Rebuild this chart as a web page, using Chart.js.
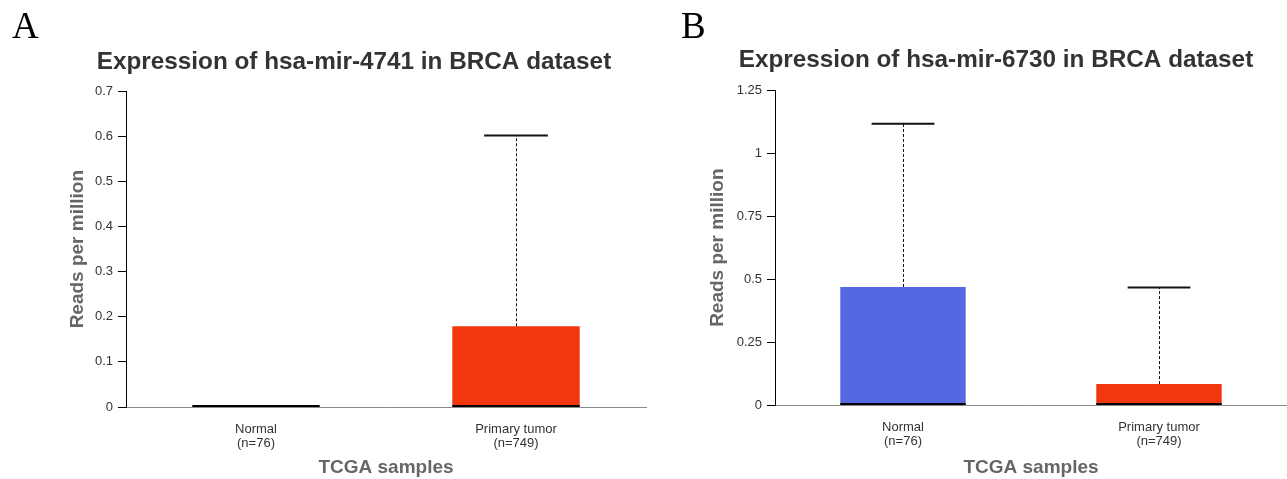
<!DOCTYPE html>
<html>
<head>
<meta charset="utf-8">
<script src="https://cdn.jsdelivr.net/npm/chart.js@4.4.1/dist/chart.umd.min.js"></script>
<style>
  html, body { margin: 0; padding: 0; background: #fff; }
  body { width: 1287px; height: 479px; position: relative; overflow: hidden; }
  .panel { position: absolute; top: 0; }
  .letter { position: absolute; font-family: 'Liberation Serif', 'Times New Roman', serif; font-size: 37px; line-height: 37px; color: #000; z-index: 2; }
</style>
</head>
<body>
<div class="letter" style="left:12px; top:7px;">A</div>
<div class="letter" style="left:681px; top:7px;">B</div>
<canvas id="chartA" class="panel" width="648" height="479" style="left:0px;"></canvas>
<canvas id="chartB" class="panel" width="647" height="479" style="left:640px;"></canvas>
<script>
// ---- Data ----
const categories = [['Normal', '(n=76)'], ['Primary tumor', '(n=749)']];
const boxColors = ['#5469E1', '#F2370F'];

// Panel A: hsa-mir-4741
const titleA = 'Expression of hsa-mir-4741 in BRCA dataset';
const q1A = [0, 0];
const medianA = [0, 0];
const q3A = [0, 0.179];
const maxA = [0, 0.602];
const tickValuesA = [0, 0.1, 0.2, 0.3, 0.4, 0.5, 0.6, 0.7];
const tickLabelsA = ['0', '0.1', '0.2', '0.3', '0.4', '0.5', '0.6', '0.7'];

// Panel B: hsa-mir-6730
const titleB = 'Expression of hsa-mir-6730 in BRCA dataset';
const q1B = [0, 0];
const medianB = [0, 0];
const q3B = [0.469, 0.083];
const maxB = [1.117, 0.467];
const tickValuesB = [0, 0.25, 0.5, 0.75, 1, 1.25];
const tickLabelsB = ['0', '0.25', '0.5', '0.75', '1', '1.25'];

const yTitle = 'Reads per million';
const xTitle = 'TCGA samples';

// ---- Box-plot decorations plugin (median, whiskers, caps) ----
const boxPlugin = {
  id: 'boxDecor',
  afterDatasetsDraw(chart, args, opts) {
    const { ctx } = chart;
    const xs = chart.scales.x, ys = chart.scales.y;
    const meta = chart.getDatasetMeta(0);
    opts.medians.forEach((m, i) => {
      const bar = meta.data[i];
      const cx = xs.getPixelForValue(i);
      const w = bar.width;
      ctx.save();
      if (opts.maxs[i] > opts.q3s[i]) {
        const yTop = ys.getPixelForValue(opts.maxs[i]);
        const yQ3 = ys.getPixelForValue(opts.q3s[i]);
        ctx.strokeStyle = '#111';
        ctx.lineWidth = 1;
        ctx.setLineDash([3, 2]);
        ctx.beginPath();
        ctx.moveTo(Math.round(cx) + 0.5, yQ3);
        ctx.lineTo(Math.round(cx) + 0.5, yTop);
        ctx.stroke();
        ctx.setLineDash([]);
        ctx.lineWidth = 2;
        ctx.beginPath();
        ctx.moveTo(cx - w / 4, yTop);
        ctx.lineTo(cx + w / 4, yTop);
        ctx.stroke();
      }
      const yM = ys.getPixelForValue(m);
      ctx.strokeStyle = '#000';
      ctx.lineWidth = 2;
      ctx.beginPath();
      ctx.moveTo(cx - w / 2, yM - 1);
      ctx.lineTo(cx + w / 2, yM - 1);
      ctx.stroke();
      ctx.restore();
    });
  }
};

function makeChart(id, cfg) {
  return new Chart(document.getElementById(id), {
    type: 'bar',
    data: {
      labels: categories,
      datasets: [{
        data: cfg.q1.map((v, i) => [v, cfg.q3[i]]),
        backgroundColor: boxColors,
        borderWidth: 0,
        barPercentage: 0.49,
        categoryPercentage: 1.0
      }]
    },
    options: {
      responsive: false,
      animation: false,
      layout: { padding: { left: cfg.padL, right: cfg.padR, top: 0, bottom: 0 } },
      plugins: {
        legend: { display: false },
        tooltip: { enabled: false },
        title: {
          display: true,
          text: cfg.title,
          color: '#333',
          font: { family: "'Liberation Sans', Arial, sans-serif", size: 24.3, weight: 'bold', lineHeight: 1.2 },
          padding: { top: cfg.titleTop, bottom: cfg.titleBottom }
        },
        boxDecor: { medians: cfg.median, q3s: cfg.q3, maxs: cfg.max }
      },
      scales: {
        x: {
          grid: { display: false, drawTicks: false },
          border: { display: true, color: '#8a8a8a', width: 1 },
          ticks: {
            color: '#333',
            padding: 16,
            font: { family: "'Liberation Sans', Arial, sans-serif", size: 13, lineHeight: 1.05 }
          },
          title: {
            display: true,
            text: xTitle,
            color: '#666',
            font: { family: "'Liberation Sans', Arial, sans-serif", size: 19, weight: 'bold', lineHeight: 1.2 },
            padding: { top: 0, bottom: 0 }
          },
          afterFit: (s) => { s.height = cfg.xH; }
        },
        y: {
          min: 0,
          max: cfg.yMax,
          afterBuildTicks: (s) => { s.ticks = cfg.tickValues.map(v => ({ value: v })); },
          grid: { display: true, drawOnChartArea: false, drawTicks: true, tickLength: 8, color: '#000', lineWidth: 1 },
          border: { display: true, color: '#000', width: 1 },
          ticks: {
            color: '#333',
            padding: 5,
            font: { family: "'Liberation Sans', Arial, sans-serif", size: 13 },
            callback: (v, i) => cfg.tickLabels[i]
          },
          title: {
            display: true,
            text: yTitle,
            color: '#666',
            font: { family: "'Liberation Sans', Arial, sans-serif", size: 19, weight: 'bold', lineHeight: 1.2 },
            padding: { top: cfg.yTitlePad, bottom: 0 }
          },
          afterFit: (s) => { s.width = cfg.yW; }
        }
      }
    },
    plugins: [boxPlugin]
  });
}

makeChart('chartA', {
  title: titleA, q1: q1A, q3: q3A, median: medianA, max: maxA,
  yMax: 0.7, tickValues: tickValuesA, tickLabels: tickLabelsA,
  padL: 62, padR: 2, yW: 64, yTitlePad: 4.6, titleTop: 47.6, titleBottom: 14.6, xH: 72
});
makeChart('chartB', {
  title: titleB, q1: q1B, q3: q3B, median: medianB, max: maxB,
  yMax: 1.25, tickValues: tickValuesB, tickLabels: tickLabelsB,
  padL: 65, padR: 0, yW: 70, yTitlePad: 1.6, titleTop: 45.6, titleBottom: 15.6, xH: 74
});
</script>
</body>
</html>
